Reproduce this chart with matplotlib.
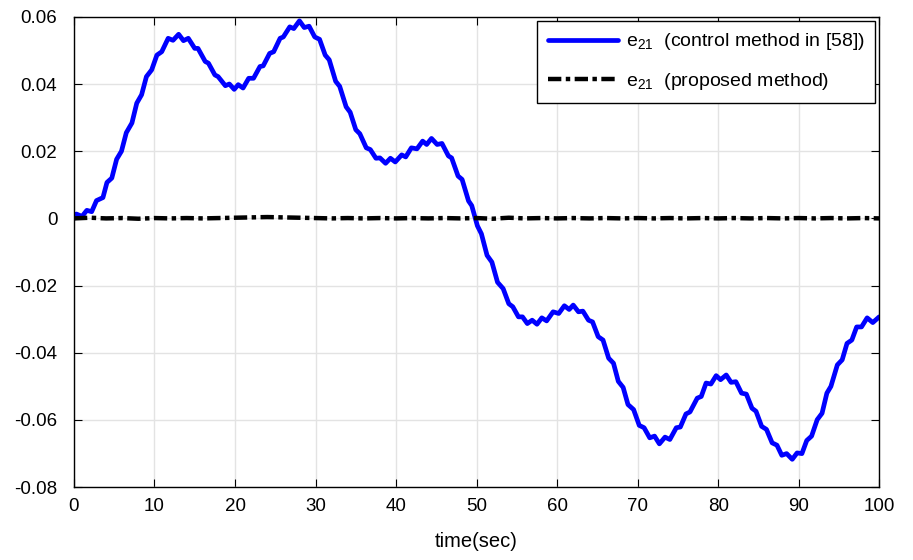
import matplotlib
matplotlib.use('Agg')
import matplotlib.pyplot as plt

# e21 error, control method in [58]
t_ref = [0.0, 0.3, 1.0, 1.6, 2.2, 2.8, 3.6, 4.1, 4.7, 5.3, 5.9, 6.5, 7.2, 7.8, 8.4,
         9.0, 9.65, 10.3, 10.9, 11.7, 12.3, 13.0, 13.6, 14.2, 15.0, 15.4, 16.3, 16.7,
         17.5, 17.9, 18.8, 19.3, 19.9, 20.4, 21.0, 21.7, 22.3, 23.1, 23.5, 24.3, 24.8,
         25.6, 26.0, 26.8, 27.3, 28.0, 28.6, 29.2, 29.9, 30.5, 31.2, 31.7, 32.5, 33.0,
         33.8, 34.3, 35.0, 35.5, 36.3, 36.8, 37.5, 38.0, 38.7, 39.3, 39.9, 40.7, 41.2,
         41.9, 42.6, 43.3, 43.8, 44.4, 45.1, 45.7, 46.5, 46.9, 47.7, 48.2, 49.0, 49.4,
         50.1, 50.6, 51.3, 51.9, 52.6, 53.3, 54.0, 54.5, 55.2, 55.7, 56.3, 56.9, 57.5,
         58.1, 58.7, 59.5, 60.2, 60.9, 61.5, 62.0, 62.65, 63.2, 63.9, 64.4, 65.1, 65.7,
         66.4, 67.0, 67.6, 68.2, 68.8, 69.5, 70.2, 70.8, 71.5, 72.1, 72.7, 73.4, 74.0,
         74.8, 75.3, 76.0, 76.5, 77.4, 77.9, 78.5, 79.1, 79.75, 80.3, 81.0, 81.6, 82.2,
         82.9, 83.5, 84.2, 84.7, 85.4, 86.0, 86.7, 87.3, 87.9, 88.5, 89.2, 89.8, 90.4,
         91.0, 91.6, 92.3, 92.9, 93.5, 94.0, 94.8, 95.4, 96.0, 96.6, 97.2, 97.8, 98.5,
         99.2, 100.0]
e_ref = [0.0, 0.0013, 0.0006, 0.0024, 0.0020, 0.0053, 0.0062, 0.0107, 0.0120, 0.0176,
         0.0200, 0.0255, 0.0284, 0.0343, 0.0368, 0.0422, 0.0442, 0.0486, 0.0496, 0.0536,
         0.0530, 0.0548, 0.0529, 0.0536, 0.0506, 0.0506, 0.0467, 0.0462, 0.0427, 0.0422,
         0.0395, 0.0400, 0.0384, 0.0398, 0.0388, 0.0417, 0.0417, 0.0452, 0.0454, 0.0491,
         0.0496, 0.0536, 0.0540, 0.0570, 0.0565, 0.0588, 0.0568, 0.0572, 0.0540, 0.0533,
         0.0486, 0.0472, 0.0408, 0.0393, 0.0332, 0.0316, 0.0264, 0.0252, 0.0210, 0.0205,
         0.0179, 0.0180, 0.0164, 0.0179, 0.0168, 0.0189, 0.0183, 0.0210, 0.0207, 0.0230,
         0.0220, 0.0238, 0.0220, 0.0223, 0.0186, 0.0180, 0.0126, 0.0116, 0.0052, 0.0038,
         -0.0022, -0.0046, -0.0110, -0.0130, -0.0190, -0.0209, -0.0254, -0.0263, -0.0293,
         -0.0293, -0.0313, -0.0303, -0.0315, -0.0296, -0.0305, -0.0278, -0.0283, -0.0260,
         -0.0271, -0.0258, -0.0278, -0.0276, -0.0303, -0.0308, -0.0352, -0.0362, -0.0416,
         -0.0431, -0.0485, -0.0503, -0.0554, -0.0569, -0.0616, -0.0623, -0.0653, -0.0648,
         -0.0671, -0.0651, -0.0658, -0.0623, -0.0621, -0.0582, -0.0576, -0.0535, -0.0530,
         -0.0490, -0.0493, -0.0468, -0.0480, -0.0466, -0.0488, -0.0486, -0.0520, -0.0523,
         -0.0565, -0.0574, -0.0619, -0.0628, -0.0668, -0.0675, -0.0705, -0.0700, -0.0717,
         -0.0698, -0.0700, -0.0661, -0.0648, -0.0599, -0.0580, -0.0520, -0.0500, -0.0436,
         -0.0421, -0.0372, -0.0362, -0.0323, -0.0323, -0.0296, -0.0310, -0.0293]

# e21 error, proposed method (stays near zero)
t_prop = [0, 2, 4, 6, 8, 10, 12, 14, 16, 18, 20, 22, 24, 26, 28, 30, 32, 34, 36, 38,
          40, 42, 44, 46, 48, 50, 52, 54, 56, 58, 60, 62, 64, 66, 68, 70, 72, 74, 76,
          78, 80, 82, 84, 86, 88, 90, 92, 94, 96, 98, 100]
e_prop = [0.0, 0.0002, 0.0, 0.0001, -0.0001, 0.0001, 0.0, 0.0001, 0.0, 0.0001,
          0.0002, 0.0003, 0.0004, 0.0003, 0.0002, 0.0001, 0.0, 0.0001, 0.0, 0.0001,
          0.0, 0.0001, 0.0, 0.0001, 0.0, 0.0001, -0.0001, 0.0002, 0.0, 0.0001, 0.0,
          0.0001, 0.0, 0.0001, 0.0, 0.0001, 0.0, 0.0001, 0.0, 0.0001, 0.0, 0.0001,
          0.0, 0.0001, 0.0, 0.0001, 0.0, 0.0001, 0.0, 0.0001, 0.0]

xticks = list(range(0, 101, 10))
yticks = [-0.08, -0.06, -0.04, -0.02, 0, 0.02, 0.04, 0.06]
yticklabels = ['-0.08', '-0.06', '-0.04', '-0.02', '0', '0.02', '0.04', '0.06']

plt.rcParams['font.family'] = ['Liberation Sans', 'DejaVu Sans']
plt.rcParams['mathtext.fontset'] = 'custom'
plt.rcParams['mathtext.rm'] = 'Liberation Sans'

fig = plt.figure(figsize=(9.13, 5.6), dpi=100)
ax = fig.add_axes([0.081, 0.130, 0.882, 0.840])

ax.plot(t_ref, e_ref, color='#0000ff', lw=3.4, solid_joinstyle='round',
        solid_capstyle='round',
        label=r'e$_{\mathregular{21}}$  (control method in [58])')
ax.plot(t_prop, e_prop, color='black', lw=3.2, linestyle=(0, (3, 1, 1, 1)),
        label=r'e$_{\mathregular{21}}$  (proposed method)')

ax.set_xlim(0, 100)
ax.set_ylim(-0.08, 0.06)
ax.set_xticks(xticks)
ax.set_yticks(yticks)
ax.set_yticklabels(yticklabels)
ax.grid(True, color='#e3e3e3', lw=1)
ax.set_axisbelow(True)
ax.tick_params(direction='in', top=True, right=True, labelsize=13.5, length=6)
ax.tick_params(axis='x', pad=8)
ax.tick_params(axis='y', pad=12)
for s in ax.spines.values():
    s.set_linewidth(1.0)
ax.set_xlabel('time(sec)', fontsize=14.5, labelpad=12)

leg = ax.legend(loc='upper right', fontsize=14, handlelength=3.6, fancybox=False,
                framealpha=1, edgecolor='black', borderaxespad=0.2, labelspacing=0.95,
                handletextpad=0.4, borderpad=0.55)
leg.get_frame().set_linewidth(1.0)

fig.savefig('out.png', dpi=100)
